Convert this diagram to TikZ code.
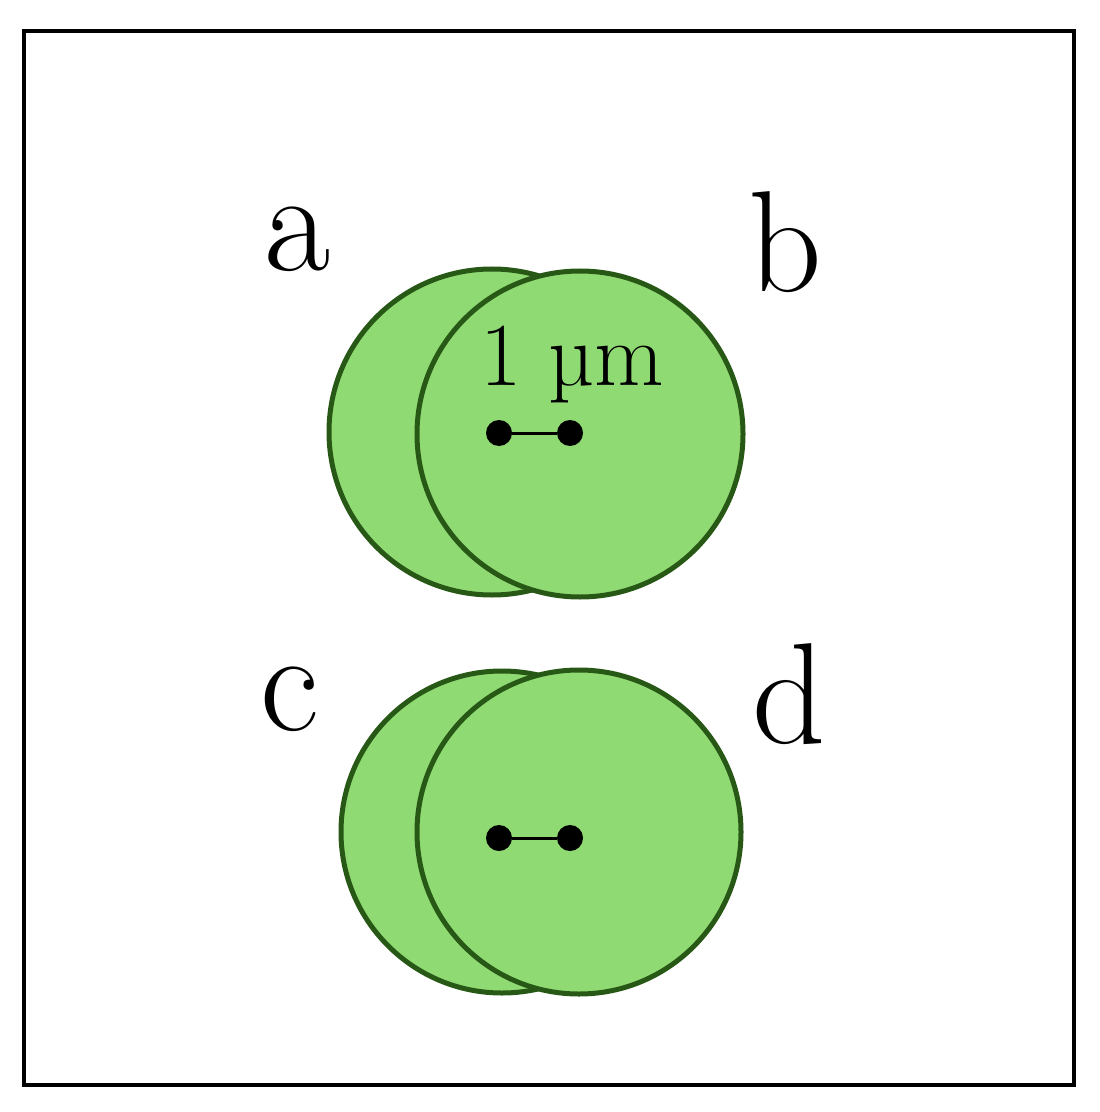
\documentclass[tikz,border=0pt]{standalone}
\usepackage{tikz}
\definecolor{cellfill}{RGB}{144,218,116}
\definecolor{celledge}{RGB}{40,88,22}
\tikzset{
    cell/.style={draw=celledge, fill=cellfill, line width=2.5pt},
    spot/.style={circle, fill=black, inner sep=0pt, minimum size=13pt},
    panel/.style={font=\fontsize{72}{80}\selectfont, anchor=base},
}

\begin{document}
\begin{tikzpicture}[x=0.5pt, y=-0.5pt]
    \useasboundingbox (0,0) rectangle (1099,1112);
    \draw[line width=1.6pt] (24,31) rectangle (1074,1085);
    % top pair
    \draw[cell] (492,432) circle (163);
    \draw[cell] (580,434) circle (163);
    \node[spot] (ta) at (499,433) {};
    \node[spot] (tb) at (570,433) {};
    \draw[line width=1.5pt] (ta) -- (tb);
    \node[font=\fontsize{45}{50}\selectfont, anchor=base] (scale) at (572,385) {1 µm};
    % bottom pair
    \draw[cell] (502,832) circle (161);
    \draw[cell] (579,832) circle (162);
    \node[spot] (ba) at (499,838) {};
    \node[spot] (bb) at (570,838) {};
    \draw[line width=1.5pt] (ba) -- (bb);
    % labels
    \node[panel] (la) at (298,271) {a};
    \node[panel] (lb) at (785,292) {b};
    \node[panel] (lc) at (290,730) {c};
    \node[panel] (ld) at (789,743) {d};
\end{tikzpicture}
\end{document}
